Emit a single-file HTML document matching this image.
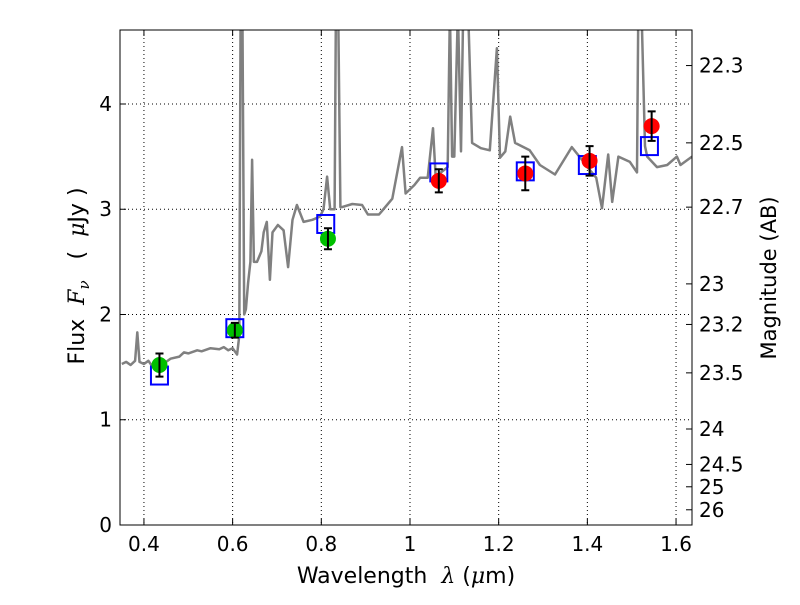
<!DOCTYPE html>
<html><head><meta charset="utf-8"><style>
body{margin:0;background:#fff;}
svg{font-family:"DejaVu Sans","Liberation Sans",sans-serif;}
</style></head><body>
<svg id="c" width="800" height="600" xmlns="http://www.w3.org/2000/svg"></svg>
<script>
const specLam=[0.35,0.36,0.37,0.38,0.385,0.39,0.40,0.41,0.42,0.43,0.45,0.46,0.48,0.49,0.5,0.52,0.53,0.55,0.57,0.58,0.59,0.60,0.61,0.615,0.618,0.622,0.626,0.63,0.635,0.64,0.644,0.648,0.655,0.66,0.665,0.67,0.677,0.684,0.69,0.702,0.715,0.725,0.735,0.745,0.76,0.78,0.797,0.805,0.813,0.82,0.83,0.833,0.838,0.843,0.847,0.87,0.892,0.905,0.93,0.96,0.982,0.99,1.01,1.023,1.04,1.052,1.058,1.07,1.085,1.09,1.095,1.1,1.108,1.115,1.12,1.131,1.14,1.16,1.18,1.196,1.203,1.215,1.226,1.237,1.27,1.293,1.327,1.365,1.388,1.40,1.42,1.433,1.447,1.456,1.47,1.496,1.512,1.515,1.522,1.53,1.535,1.557,1.58,1.602,1.61,1.636];
const specFlux=[1.53,1.55,1.52,1.56,1.83,1.55,1.53,1.56,1.50,1.54,1.55,1.58,1.60,1.64,1.63,1.66,1.65,1.68,1.67,1.69,1.66,1.68,1.62,1.8,4.9,4.9,2.0,2.05,2.3,2.5,3.47,2.5,2.5,2.55,2.6,2.78,2.88,2.33,2.78,2.85,2.8,2.45,2.9,3.04,2.88,2.9,2.93,3.0,3.31,3.0,3.0,4.9,4.9,3.02,3.02,3.05,3.04,2.95,2.95,3.1,3.59,3.15,3.23,3.3,3.3,3.77,3.3,3.35,3.4,4.9,3.5,3.5,4.9,3.55,4.9,4.9,3.63,3.58,3.56,4.53,3.49,3.55,3.88,3.63,3.56,3.42,3.33,3.59,3.47,3.4,3.3,3.01,3.52,3.07,3.5,3.45,3.35,4.9,4.9,3.6,3.5,3.4,3.42,3.5,3.42,3.5];
const obsGreenLam=[0.435,0.605,0.815];
const obsGreenFlux=[1.52,1.85,2.72];
const obsGreenErr=[0.11,0.07,0.1];
const obsRedLam=[1.065,1.26,1.405,1.545];
const obsRedFlux=[3.27,3.34,3.46,3.79];
const obsRedErr=[0.11,0.16,0.14,0.14];
const modelLam=[0.435,0.605,0.81,1.065,1.26,1.4,1.54];
const modelFlux=[1.42,1.87,2.86,3.35,3.36,3.42,3.6];
const xTicks=[0.4,0.6,0.8,1.0,1.2,1.4,1.6];
const xTickLabels=["0.4","0.6","0.8","1","1.2","1.4","1.6"];
const yTicks=[0,1,2,3,4];
const magTicks=[22.3,22.5,22.7,23,23.2,23.5,24,24.5,25,26];

const L=120,R=692,T=30,B=525;
const xmin=0.346,xmax=1.636,ymin=0,ymax=4.703;
const X=v=>L+(v-xmin)/(xmax-xmin)*(R-L);
const Y=v=>B-(v-ymin)/(ymax-ymin)*(B-T);
const NS="http://www.w3.org/2000/svg";
const svg=document.getElementById('c');
function mk(tag,attrs,parent){const e=document.createElementNS(NS,tag);for(const k in attrs)e.setAttribute(k,attrs[k]);(parent||svg).appendChild(e);return e;}
const defs=mk('defs',{});
const cp=mk('clipPath',{id:'clip'},defs);mk('rect',{x:L,y:T,width:R-L,height:B-T},cp);

xTicks.forEach(t=>{const g=mk('line',{x1:X(t),x2:X(t),y1:T,y2:B,stroke:'#000','stroke-width':1,'stroke-dasharray':'1,3'});

});
yTicks.slice(1).forEach(t=>{const g=mk('line',{x1:L,x2:R,y1:Y(t),y2:Y(t),stroke:'#000','stroke-width':1,'stroke-dasharray':'1,3'});

});

let d=specLam.map((l,i)=>(i?'L':'M')+X(l).toFixed(1)+','+Y(specFlux[i]).toFixed(1)).join('');
const sp=mk('path',{d:d,fill:'none',stroke:'#808080','stroke-width':2.5,'stroke-linejoin':'round','clip-path':'url(#clip)'});



modelLam.forEach((l,i)=>{const r=mk('rect',{x:X(l)-8.5,y:Y(modelFlux[i])-9,width:17,height:18,fill:'none',stroke:'#0000ff','stroke-width':2});

});

function pts(lams,fl,er,col,name){lams.forEach((l,i)=>{
const c=mk('circle',{cx:X(l),cy:Y(fl[i]),r:8,fill:col});


const x=X(l),y1=Y(fl[i]-er[i]),y2=Y(fl[i]+er[i]);
const e=mk('path',{d:`M${x},${y1}V${y2}M${x-4},${y1}H${x+4}M${x-4},${y2}H${x+4}`,stroke:'#000','stroke-width':2,fill:'none'});

});}
pts(obsGreenLam,obsGreenFlux,obsGreenErr,'#00c000','observed-point-green');
pts(obsRedLam,obsRedFlux,obsRedErr,'#ff0000','observed-point-red');

const fr=mk('rect',{x:L,y:T,width:R-L,height:B-T,fill:'none',stroke:'#000','stroke-width':1});



xTicks.forEach((t,i)=>{mk('line',{x1:X(t),x2:X(t),y1:B,y2:B-6,stroke:'#000'});mk('line',{x1:X(t),x2:X(t),y1:T,y2:T+6,stroke:'#000'});
const tx=mk('text',{x:X(t),y:B+26,'font-size':20,'text-anchor':'middle'});tx.textContent=xTickLabels[i];

});
yTicks.forEach(t=>{mk('line',{x1:L,x2:L+6,y1:Y(t),y2:Y(t),stroke:'#000'});
const tx=mk('text',{x:L-8,y:Y(t)+7,'font-size':20,'text-anchor':'end'});tx.textContent=String(t);

});
magTicks.forEach(m=>{const f=Math.pow(10,(23.9-m)/2.5);const y=Y(f);
mk('line',{x1:R,x2:R-6,y1:y,y2:y,stroke:'#000'});
const tx=mk('text',{x:R+7,y:y+7,'font-size':20});tx.textContent=String(m);

});
</script>
<svg width="800" height="600" style="position:absolute;left:0;top:0" xmlns="http://www.w3.org/2000/svg" font-family="DejaVu Sans, Liberation Sans, sans-serif">
<text x="406" y="583" font-size="22" text-anchor="middle" xml:space="preserve">Wavelength  <tspan font-style="italic" font-family="DejaVu Serif, serif">λ</tspan> (<tspan font-style="italic" font-family="DejaVu Serif, serif">μ</tspan>m)</text>
<text transform="translate(84,276) rotate(-90)" font-size="22" text-anchor="middle" xml:space="preserve">Flux  <tspan font-style="italic" font-family="DejaVu Serif, serif">F<tspan font-size="15" dy="5">ν</tspan></tspan><tspan dy="-5">   (  </tspan><tspan font-style="italic" font-family="DejaVu Serif, serif">μ</tspan>Jy )</text>
<text transform="translate(776,278) rotate(-90)" font-size="21" text-anchor="middle">Magnitude (AB)</text>
</svg>
</body></html>
